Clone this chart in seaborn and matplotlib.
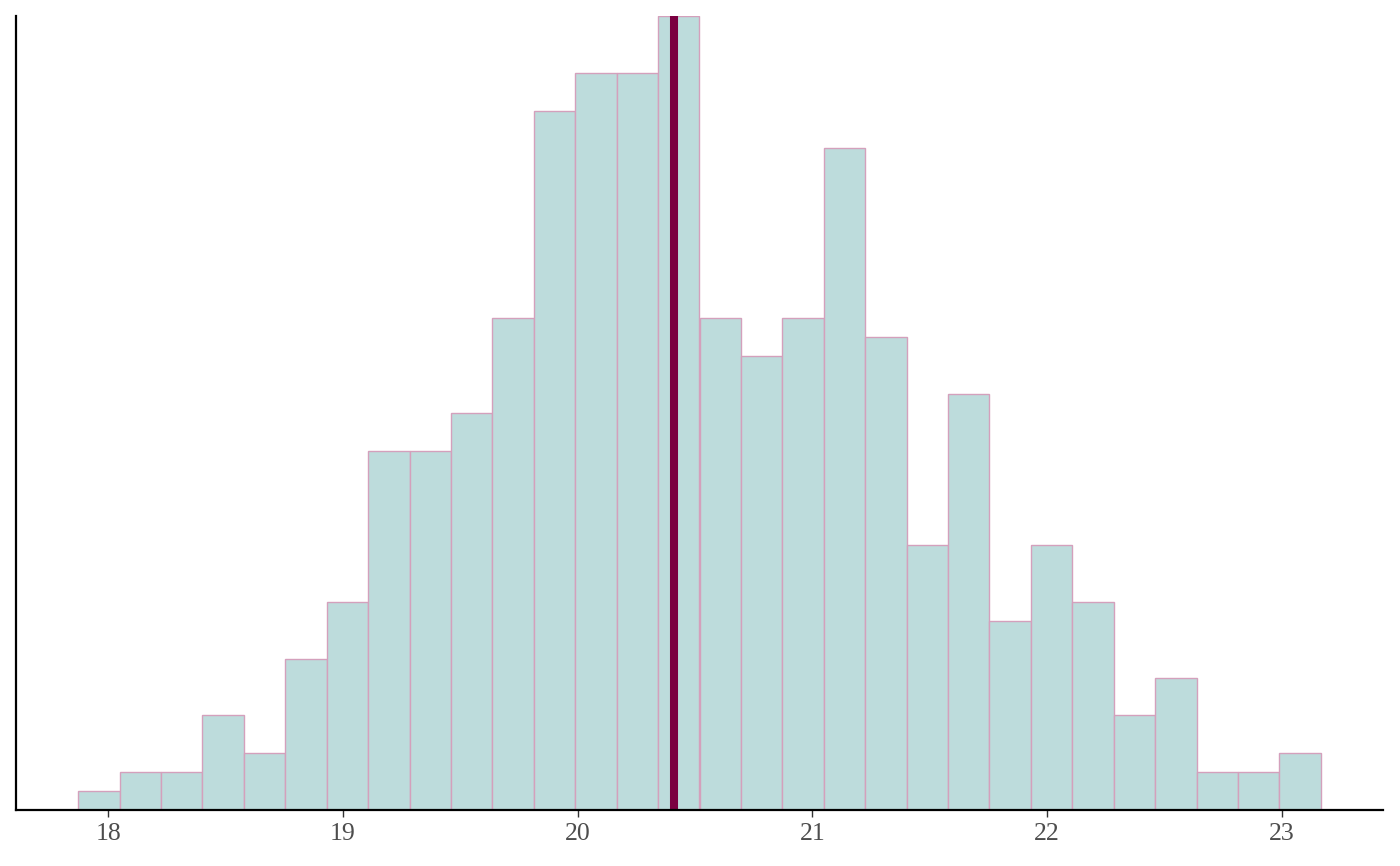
import numpy as np
import pandas as pd
import matplotlib.pyplot as plt
import seaborn as sns

# histogram: 30 equal bins
bin_start = 17.872
bin_width = 0.1765
counts = [1, 2, 2, 5, 3, 8, 11, 19, 19, 21,
          26, 37, 39, 39, 42, 26, 24, 26, 35, 25,
          14, 22, 10, 14, 11, 5, 7, 2, 2, 3]
mean_value = 20.41
x_ticks = [18, 19, 20, 21, 22, 23]

edges = bin_start + bin_width * np.arange(len(counts) + 1)
centers = (edges[:-1] + edges[1:]) / 2
df = pd.DataFrame({"value": centers, "n": counts})

sns.set_theme(style="white")
plt.rcParams["font.family"] = ["Liberation Serif", "DejaVu Serif"]

fig = plt.figure(figsize=(14, 8.66), dpi=100)
ax = fig.add_axes([16 / 1400, 56 / 866, 1367 / 1400, 794 / 866])

sns.histplot(data=df, x="value", weights="n", bins=len(counts),
             binrange=(edges[0], edges[-1]), ax=ax,
             color="#bddcdc", edgecolor="#d4a0bc", linewidth=1.0, alpha=1)
ax.axvline(mean_value, color="#7b0041", linewidth=5.8)

span = edges[-1] - edges[0]
ax.set_xlim(edges[0] - 0.05 * span, edges[-1] + 0.05 * span)
ax.set_ylim(0, max(counts))
ax.set_xticks(x_ticks)
ax.set_yticks([])
ax.set_xlabel("")
ax.set_ylabel("")
ax.tick_params(axis="x", bottom=True, length=5, width=1, color="#333333",
               labelsize=18.5, labelcolor="#4d4d4d", pad=4)
for side in ["top", "right"]:
    ax.spines[side].set_visible(False)
for side in ["left", "bottom"]:
    ax.spines[side].set_color("black")
    ax.spines[side].set_linewidth(1.6)

fig.savefig("out.png", dpi=100)
